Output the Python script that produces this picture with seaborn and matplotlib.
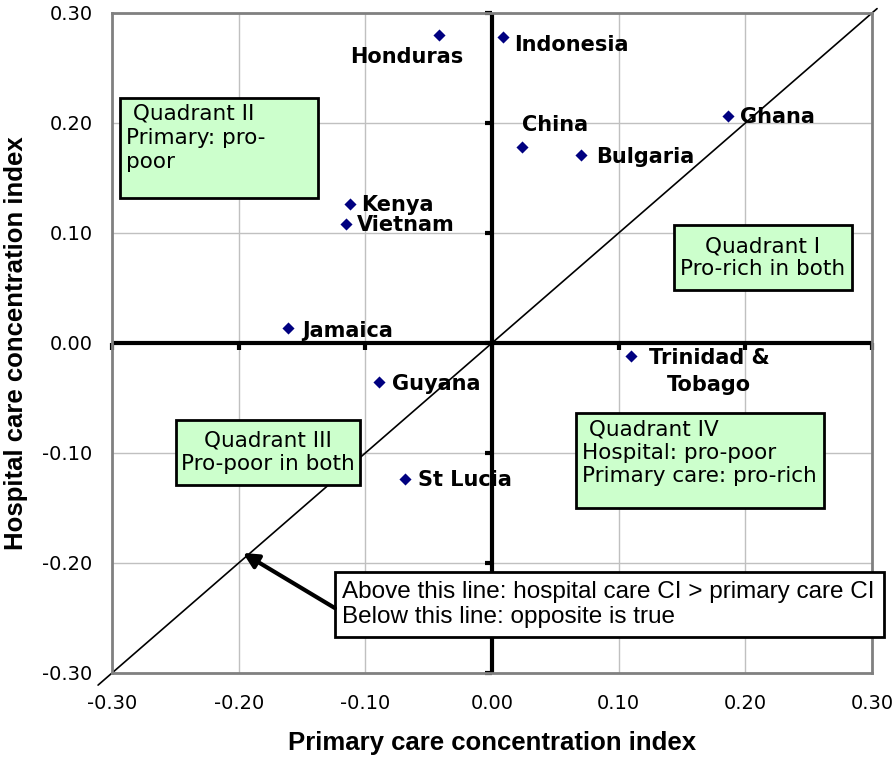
import numpy as np
import pandas as pd
import matplotlib
matplotlib.use("Agg")
import matplotlib.pyplot as plt
import seaborn as sns
from matplotlib.patches import Rectangle

# Veri: ülkeler ve yoğunlaşma endeksleri
countries = ["Honduras", "Indonesia", "China", "Bulgaria", "Ghana", "Kenya",
             "Vietnam", "Jamaica", "Trinidad &\nTobago", "Guyana", "St Lucia"]
primary_ci = [-0.042, 0.009, 0.024, 0.070, 0.186, -0.112,
              -0.115, -0.161, 0.110, -0.089, -0.069]
hospital_ci = [0.280, 0.278, 0.178, 0.171, 0.206, 0.126,
               0.108, 0.014, -0.012, -0.035, -0.124]
ticks = [-0.30, -0.20, -0.10, 0.00, 0.10, 0.20, 0.30]
tick_labels = ["-0.30", "-0.20", "-0.10", "0.00", "0.10", "0.20", "0.30"]

df = pd.DataFrame({"country": countries, "primary": primary_ci, "hospital": hospital_ci})

# etiket kaydırmaları (piksel), hizalama
label_pos = {
    "Honduras": (-32, -22, "center"),
    "Indonesia": (11, -8, "left"),
    "China": (33, 22, "center"),
    "Bulgaria": (15, -2, "left"),
    "Ghana": (12, -1, "left"),
    "Kenya": (11, -1, "left"),
    "Vietnam": (11, -1, "left"),
    "Jamaica": (14, -3, "left"),
    "Trinidad &\nTobago": (78, -15, "center"),
    "Guyana": (13, -2, "left"),
    "St Lucia": (13, -1, "left"),
}

sns.set_style("white")
plt.rcParams.update({"text.color": "black", "axes.labelcolor": "black",
                     "xtick.color": "black", "ytick.color": "black"})
fig = plt.figure(figsize=(8.96, 7.57), dpi=100)
ax = fig.add_axes([112 / 896, 1 - 673 / 757, 760 / 896, 660 / 757])

ax.set_xlim(-0.30, 0.30)
ax.set_ylim(-0.30, 0.30)
ax.set_xticks(ticks)
ax.set_yticks(ticks)
ax.set_xticklabels(tick_labels)
ax.set_yticklabels(tick_labels)
ax.tick_params(axis="both", length=0, labelsize=14, colors="black")
ax.tick_params(axis="x", pad=15)
ax.tick_params(axis="y", pad=14)
ax.grid(True, color="#c0c0c0", lw=1)
for s in ax.spines.values():
    s.set_color("#808080")
    s.set_linewidth(2)

# kalın eksen çizgileri
ax.axhline(0, color="black", lw=3, zorder=2)
ax.axvline(0, color="black", lw=3, zorder=2)
ax.plot([0] * len(ticks), ticks, ls="none", marker=0, ms=5, mew=3, color="black", zorder=2, clip_on=False)
ax.plot(ticks, [0] * len(ticks), ls="none", marker=3, ms=5, mew=3, color="black", zorder=2, clip_on=False)

# köşegen çizgi
ax.plot([-0.311, 0.304], [-0.311, 0.304], color="black", lw=1.2, zorder=2, clip_on=False)

sns.scatterplot(data=df, x="primary", y="hospital", marker="D", s=38,
                color="#000080", edgecolor="#000080", linewidth=0, zorder=5, ax=ax)

for c, xv, yv in zip(countries, primary_ci, hospital_ci):
    dx, dy, ha = label_pos[c]
    ax.annotate(c, (xv, yv), xytext=(dx * 0.72, dy * 0.72), textcoords="offset points",
                ha=ha, va="center", fontsize=15, fontweight="bold", color="black",
                multialignment="center", linespacing=1.45, zorder=6)

# kadran kutuları
def box(x0, x1, y0, y1, face="#ccffcc"):
    ax.add_patch(Rectangle((x0, y0), x1 - x0, y1 - y0, facecolor=face,
                           edgecolor="black", lw=2, zorder=3, clip_on=False))

box(-0.2937, -0.1374, 0.1318, 0.2227)
ax.text(-0.2889, 0.2173, " Quadrant II\nPrimary: pro-\npoor", ha="left", va="top",
        fontsize=15.5, zorder=4, linespacing=1.25)

box(0.1437, 0.2842, 0.0482, 0.1073)
ax.text(0.2139, 0.0775, "Quadrant I\nPro-rich in both", ha="center", va="center",
        fontsize=15.5, zorder=4, multialignment="center", linespacing=1.2)

box(-0.2495, -0.1042, -0.129, -0.070)
ax.text(-0.1768, -0.0995, "Quadrant III\nPro-poor in both", ha="center", va="center",
        fontsize=15.5, zorder=4, multialignment="center", linespacing=1.2)

box(0.0663, 0.2621, -0.150, -0.0636)
ax.text(0.0711, -0.0695, " Quadrant IV\nHospital: pro-poor\nPrimary care: pro-rich",
        ha="left", va="top", fontsize=15.5, zorder=4, linespacing=1.2)

# açıklama kutusu ve ok
box(-0.124, 0.3095, -0.2673, -0.2082, face="white")
ax.text(-0.1184, -0.2375,
        "Above this line: hospital care CI > primary care CI\nBelow this line: opposite is true",
        ha="left", va="center", fontsize=17.5, zorder=4, linespacing=1.15,
        family="Liberation Sans", clip_on=False)
ax.annotate("", xy=(-0.1966, -0.1909), xytext=(-0.124, -0.241),
            arrowprops=dict(arrowstyle="-|>,head_length=0.9,head_width=0.45",
                            color="black", lw=3, shrinkA=0, shrinkB=0), zorder=4)

ax.set_xlabel("Primary care concentration index", fontsize=18.5, fontweight="bold",
              family="Liberation Sans", labelpad=13)
ax.set_ylabel("Hospital care concentration index", fontsize=18.5, fontweight="bold",
              family="Liberation Sans", labelpad=10)

fig.savefig("out.png", dpi=100)
